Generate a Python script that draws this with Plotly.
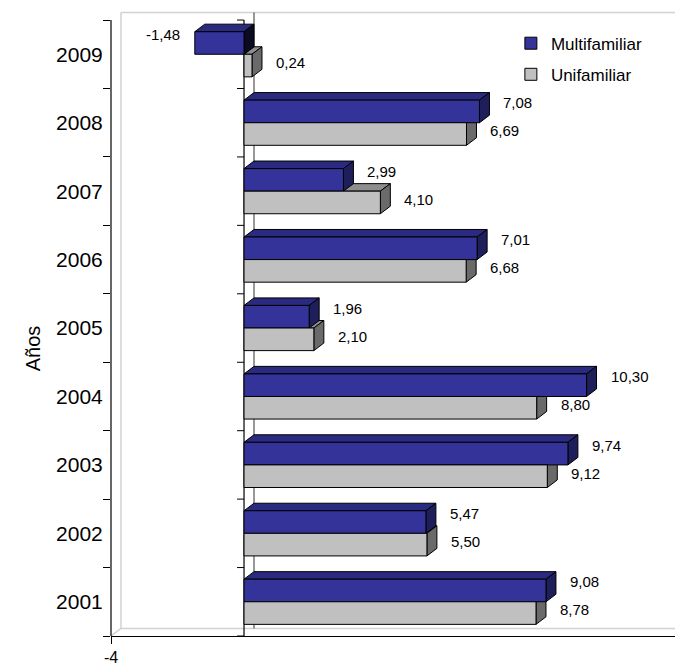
import plotly.graph_objects as go

# ---- data ----
years = [2001, 2002, 2003, 2004, 2005, 2006, 2007, 2008, 2009]
multifamiliar = [9.08, 5.47, 9.74, 10.30, 1.96, 7.01, 2.99, 7.08, -1.48]
unifamiliar = [8.78, 5.50, 9.12, 8.80, 2.10, 6.68, 4.10, 6.69, 0.24]
x_tick_vals = [-4]
x_tick_text = ["-4"]

# ---- style / geometry ----
FONT = "Liberation Sans, Arial, sans-serif"
BLUE, BLUE_TOP, BLUE_SIDE = "#333399", "#2A2A80", "#1E1E5A"
GRAY, GRAY_TOP, GRAY_SIDE = "#C0C0C0", "#8E8E8E", "#6A6A6A"
XMIN, XMAX = -4, 12.96
YMIN, YMAX = 2000.5, 2009.647
BW = 0.33          # bar thickness (category units)
DX, DY = 0.30, 0.11  # 3D depth offset in data units

def fmt(v):
    return f"{v:.2f}".replace(".", ",")

fig = go.Figure()
fig.add_trace(go.Bar(name="Multifamiliar", y=years, x=multifamiliar, orientation="h",
                     width=BW, offset=0, marker=dict(color=BLUE, line=dict(color="black", width=1)),
                     legendgroup="m", hoverinfo="skip"))
fig.add_trace(go.Bar(name="Unifamiliar", y=years, x=unifamiliar, orientation="h",
                     width=BW, offset=-BW, marker=dict(color=GRAY, line=dict(color="black", width=1)),
                     legendgroup="u", hoverinfo="skip"))

shapes = []
wall = dict(color="#D2D2D2", width=1.5)
ylo, yhi = YMIN, years[-1] + 0.5
# back wall (paper-referenced in x so it reaches the right edge unclipped)
wall_left = (XMIN + DX - XMIN) / (XMAX - XMIN)
shapes.append(dict(type="line", xref="x", yref="y", x0=XMIN + DX, x1=XMIN + DX, y0=ylo + DY, y1=yhi + DY, line=wall, layer="below"))
shapes.append(dict(type="line", xref="paper", yref="y", x0=wall_left, x1=1.02, y0=yhi + DY, y1=yhi + DY, line=wall, layer="below"))
shapes.append(dict(type="line", xref="paper", yref="y", x0=wall_left, x1=1.02, y0=ylo + DY, y1=ylo + DY, line=wall, layer="below"))
shapes.append(dict(type="line", xref="x", yref="y", x0=XMIN, x1=XMIN + DX, y0=ylo, y1=ylo + DY, line=wall, layer="below"))
# zero lines (front and back)
shapes.append(dict(type="line", xref="x", yref="y", x0=DX, x1=DX, y0=ylo + DY, y1=yhi + DY, line=dict(color="#333333", width=1), layer="below"))
shapes.append(dict(type="line", xref="x", yref="y", x0=0, x1=0, y0=ylo, y1=yhi, line=dict(color="black", width=1.2), layer="below"))
# left axis line (front)
shapes.append(dict(type="line", xref="paper", yref="y", x0=0, x1=0, y0=ylo, y1=yhi, line=dict(color="black", width=1.2)))
# ticks on zero line
for k in range(len(years) + 1):
    yb = ylo + k
    shapes.append(dict(type="line", xref="x", yref="y", xsizemode="pixel", xanchor=0,
                       x0=-7, x1=0, y0=yb, y1=yb, line=dict(color="black", width=1)))

def path(pts):
    return "M " + " L ".join(f"{x},{y}" for x, y in pts) + " Z"

def faces(values, lo_off, top_col, side_col):
    out = []
    for yr, v in zip(years, values):
        a, b = min(0, v), max(0, v)
        y0, y1 = yr + lo_off, yr + lo_off + BW
        top = [(a, y1), (b, y1), (b + DX, y1 + DY), (a + DX, y1 + DY)]
        side = [(b, y0), (b, y1), (b + DX, y1 + DY), (b + DX, y0 + DY)]
        sc = side_col if v >= 0 else "#0A0A20"
        out.append(dict(type="path", xref="x", yref="y", path=path(top), fillcolor=top_col,
                        line=dict(color="black", width=1), layer="below"))
        out.append(dict(type="path", xref="x", yref="y", path=path(side), fillcolor=sc,
                        line=dict(color="black", width=1), layer="below"))
    return out

shapes += faces(unifamiliar, -BW, GRAY_TOP, GRAY_SIDE)
shapes += faces(multifamiliar, 0, BLUE_TOP, BLUE_SIDE)

LABEL_FONT = dict(family=FONT, size=15, color="black")
annotations = []
for yr, v in zip(years, multifamiliar):
    annotations.append(dict(x=v, y=yr + 0.29, xref="x", yref="y", text=fmt(v), showarrow=False,
                            xanchor="left" if v >= 0 else "right", xshift=22 if v >= 0 else -13,
                            font=LABEL_FONT))
for yr, v in zip(years, unifamiliar):
    annotations.append(dict(x=v, y=yr - 0.12, xref="x", yref="y", text=fmt(v), showarrow=False,
                            xanchor="left" if v >= 0 else "right", xshift=22 if v >= 0 else -13,
                            font=LABEL_FONT))
annotations.append(dict(x=-0.161, y=0.46, xref="paper", yref="paper", text="Años", textangle=-90,
                        showarrow=False, font=dict(family=FONT, size=20, color="black")))

fig.update_layout(
    width=675, height=665,
    margin=dict(l=111, r=0, t=10, b=29),
    paper_bgcolor="white", plot_bgcolor="white",
    barmode="overlay",
    font=dict(family=FONT, color="black"),
    shapes=shapes, annotations=annotations,
    showlegend=True,
    legend=dict(x=0.709, y=0.975, xanchor="left", yanchor="top", traceorder="grouped",
                tracegroupgap=6, font=dict(family=FONT, size=17, color="black"),
                bgcolor="rgba(0,0,0,0)"),
    xaxis=dict(range=[XMIN, XMAX], showgrid=False, zeroline=False, showline=True,
               linecolor="black", linewidth=1.2, ticks="outside", ticklen=7, tickcolor="black",
               tickvals=x_tick_vals, ticktext=x_tick_text,
               tickfont=dict(family=FONT, size=16, color="black")),
    yaxis=dict(range=[YMIN, YMAX], showgrid=False, zeroline=False, showline=False,
               tickvals=years, ticktext=[str(y) for y in years], ticks="outside", ticklen=3,
               tickcolor="rgba(0,0,0,0)", tickfont=dict(family=FONT, size=21, color="black"),
               minor=dict(tickvals=[ylo + k for k in range(len(years) + 1)], ticks="outside",
                          ticklen=7, tickcolor="black", tickwidth=1)),
)

fig.write_html("out.html", config={"displayModeBar": False},
               post_script=("document.documentElement.style.margin='0';"
                            "document.documentElement.style.overflow='hidden';"
                            "document.body.style.margin='0';document.body.style.overflow='hidden';"))
